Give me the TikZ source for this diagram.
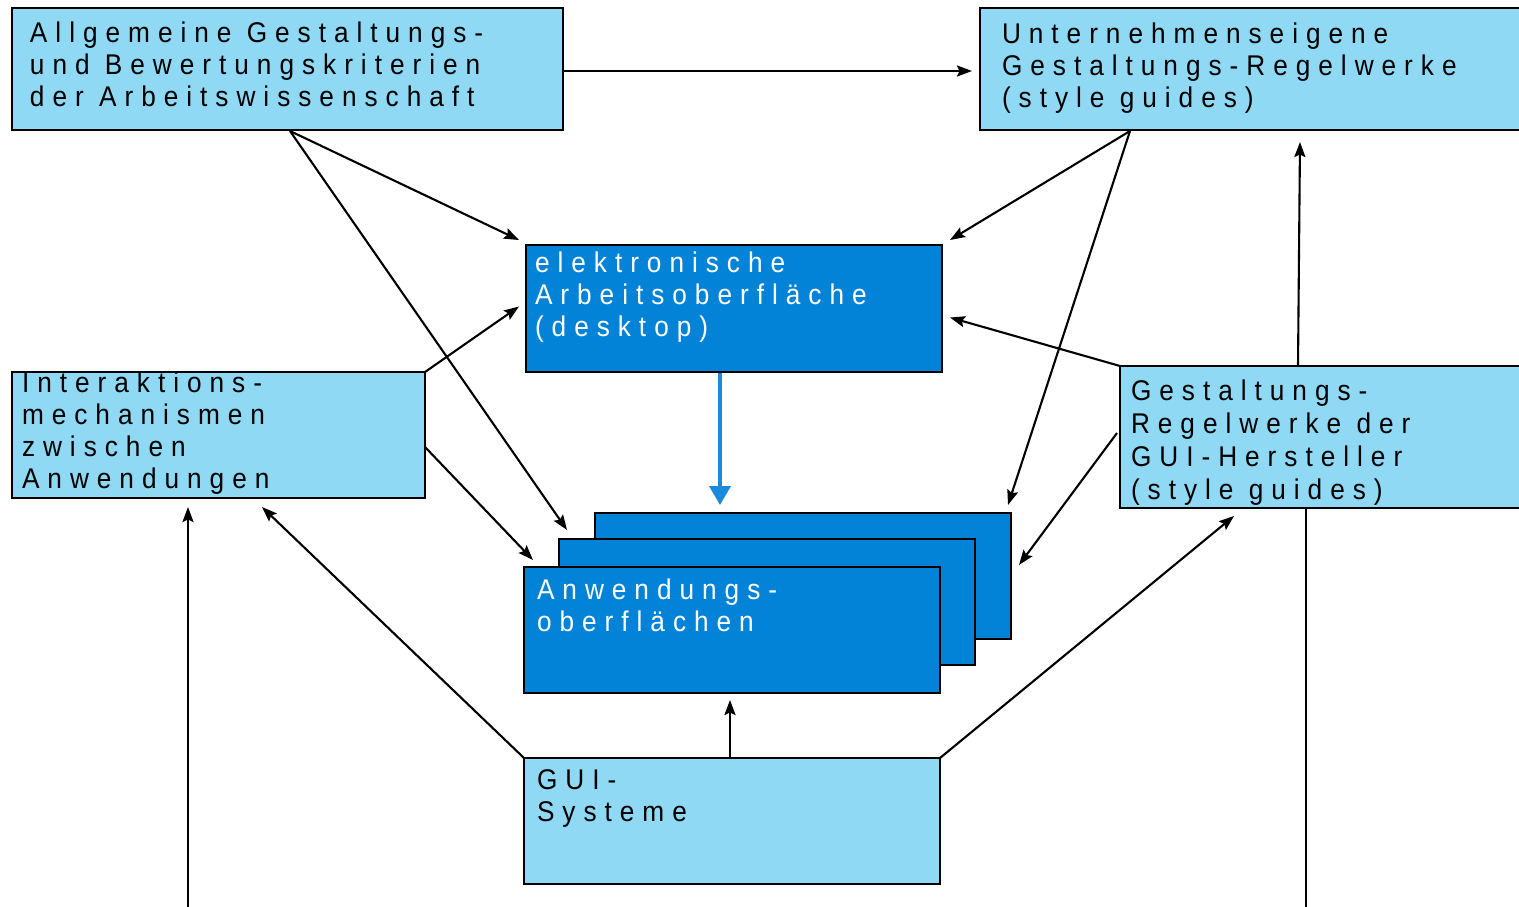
\documentclass[tikz,border=0pt]{standalone}
\usepackage{fontspec}
\setmainfont{Liberation Sans}[FakeStretch=0.92,LetterSpace=28]
\usetikzlibrary{arrows.meta,calc}
\definecolor{lblue}{RGB}{143,217,245}
\definecolor{dblue}{RGB}{3,131,216}
\definecolor{ablue}{RGB}{28,138,219}
\begin{document}
\begin{tikzpicture}[x=1pt,y=-1pt,
  box/.style={draw=black, line width=2.5pt, anchor=north west, inner sep=0pt, outer sep=0pt},
  lbox/.style={box, fill=lblue},
  dbox/.style={box, fill=dblue},
  txt/.style={anchor=north west, inner sep=0pt, outer sep=0pt, align=left, font=\fontsize{28.5}{32}\selectfont},
  wtxt/.style={txt, text=white},
  arr/.style={line width=2.1pt, -{Stealth[length=15pt,width=11pt,inset=2.5pt]}},
  line/.style={line width=2.1pt},
  bigarr/.style={line width=4pt, draw=ablue, -{Triangle[length=19pt,width=21pt]}}
]
\useasboundingbox (0,0) rectangle (1519,907);
\clip (0,0) rectangle (1519,907);

% boxes
\node[lbox, minimum width=551pt, minimum height=122pt] (tl) at (12,8) {};
\node[lbox, minimum width=545pt, minimum height=122pt] (tr) at (980,8) {};
\node[dbox, minimum width=416pt, minimum height=127pt] (desk) at (526,245) {};
\node[lbox, minimum width=413pt, minimum height=126pt] (left) at (12,372) {};
\node[lbox, minimum width=405pt, minimum height=142pt] (right) at (1120,366) {};
\node[dbox, minimum width=416pt, minimum height=126pt] (app3) at (595,513) {};
\node[dbox, minimum width=416pt, minimum height=126pt] (app2) at (559,539) {};
\node[dbox, minimum width=416pt, minimum height=126pt] (app1) at (524,567) {};
\node[lbox, minimum width=416pt, minimum height=126pt] (gui) at (524,758) {};

% texts
\node[txt] (tltext) at (30,22) {\rule{0pt}{20.5pt}Allgemeine Gestaltungs-\\und Bewertungskriterien\\der Arbeitswissenschaft};
\node[txt] (trtext) at (1002,23) {\rule{0pt}{20.5pt}Unternehmenseigene\\Gestaltungs-Regelwerke\\(style guides)};
\node[wtxt] (desktext) at (535,252) {\rule{0pt}{20.5pt}elektronische\\Arbeitsoberfläche\\(desktop)};
\node[txt] (lefttext) at (22,372) {\rule{0pt}{20.5pt}Interaktions-\\mechanismen\\zwischen\\Anwendungen};
\node[txt, font=\fontsize{28.5}{33}\selectfont] (righttext) at (1131,380) {\rule{0pt}{20.5pt}Gestaltungs-\\Regelwerke der\\GUI-Hersteller\\(style guides)};
\node[wtxt] (apptext) at (537,579) {\rule{0pt}{20.5pt}Anwendungs-\\oberflächen};
\node[txt] (guitext) at (537,769) {\rule{0pt}{20.5pt}GUI-\\Systeme};

% connectors
\draw[arr] ($(tl.north east)+(0,63)$) -- ($(tr.north west)+(-8,63)$);
\draw[arr] ($(tl.south west)+(278,1)$) -- ($(desk.north west)+(-7,-5)$);
\draw[arr] ($(tl.south west)+(278,1)$) -- ($(app2.north west)+(8,-9)$);
\draw[arr] ($(tr.south west)+(150,1)$) -- ($(desk.north east)+(8,-5)$);
\draw[arr] ($(tr.south west)+(150,1)$) -- ($(app3.north east)+(-3,-8)$);
\draw[arr] (left.north east) -- ($(desk.west)+(-7,-2)$);
\draw[arr] ($(left.north east)+(0,75)$) -- ($(app1.north west)+(9,-7)$);
\draw[bigarr] ($(desk.south west)+(194,1)$) -- ($(app3.north west)+(125,-8)$);
\draw[arr] (right.north west) -- ($(desk.east)+(8,9)$);
\draw[arr] ($(right.north west)+(-3,67)$) -- ($(app3.north east)+(8,52)$);
\draw[arr] ($(right.north west)+(178,0)$) -- ($(tr.south west)+(320,12)$);
\draw[arr] ($(gui.north west)+(206,0)$) -- ($(app1.south west)+(206,7)$);
\draw[arr] (gui.north west) -- ($(left.south west)+(250,9)$);
\draw[arr] (gui.north east) -- ($(right.south west)+(114,8)$);
\coordinate (b1) at (188,912);
\coordinate (b2) at (1306,912);
\draw[arr] (b1) -- ($(left.south west)+(176,9)$);
\draw[line] ($(right.south west)+(186,0)$) -- (b2);
\end{tikzpicture}
\end{document}
